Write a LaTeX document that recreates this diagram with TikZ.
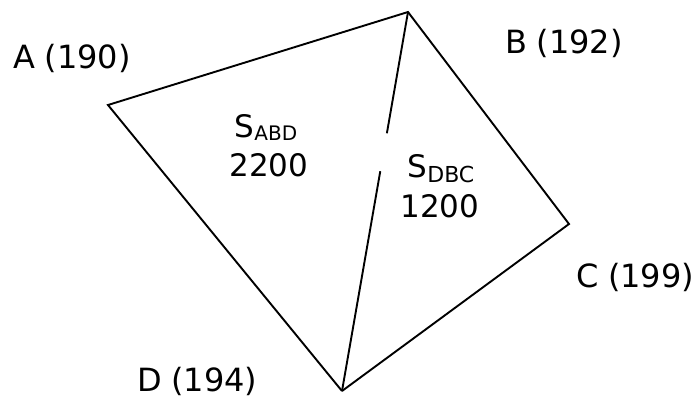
\documentclass[tikz,border=0pt]{standalone}
\usepackage{fontspec}
\setmainfont{DejaVu Sans}
\usetikzlibrary{calc}
\newcommand{\subtx}[3]{\raisebox{-#2pt}{\fontsize{#3}{#3}\selectfont #1}}
\newcommand{\lsp}{\hspace{0.3em}}
\begin{document}
\begin{tikzpicture}[x=1pt,y=-1pt,
  edge/.style={line width=1.9pt,black},
  lbl/.style={font=\fontsize{32}{35}\selectfont,inner sep=0pt,anchor=base west},
  clbl/.style={font=\fontsize{31}{34}\selectfont,inner sep=0pt,anchor=base}]
\useasboundingbox (0,0) rectangle (699,399);
\coordinate (A) at (108,105);
\coordinate (B) at (408,12);
\coordinate (C) at (569,224);
\coordinate (D) at (342,391);
\draw[edge,line join=miter] (D) -- (A) -- (B) -- (C) -- (D);
\draw[edge] (B) -- ($(B)!0.32!(D)$);
\draw[edge] ($(B)!0.42!(D)$) -- (D);
\node[lbl] (la) at (13,68) {A\lsp(190)};
\node[lbl] (lb) at (505,53) {B\lsp(192)};
\node[lbl] (lc) at (576,287) {C\lsp(199)};
\node[lbl] (ld) at (137,391) {D\lsp(194)};
\node[clbl] (sabd) at (266,137) {S\subtx{ABD}{3.5}{20}};
\node[clbl] (vabd) at (269,176) {2200};
\node[clbl] (sdbc) at (441,177) {S\subtx{DBC}{5}{22}};
\node[clbl] (vdbc) at (440,217) {1200};
\end{tikzpicture}
\end{document}
